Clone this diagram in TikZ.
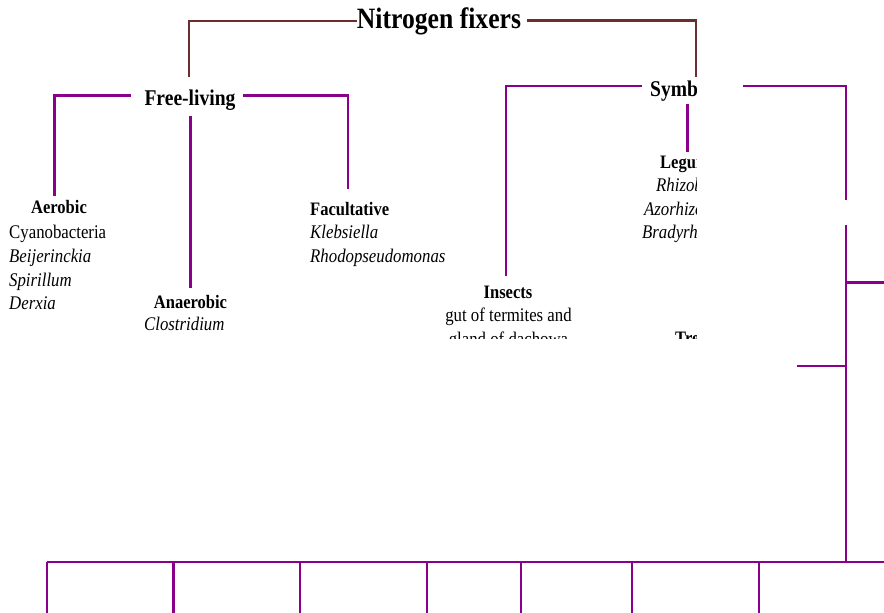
\documentclass[tikz,border=0pt]{standalone}
\usepackage{fontspec}
\setmainfont[FakeStretch=0.87]{Liberation Serif}
\definecolor{brownline}{HTML}{6B2D2D}
\definecolor{purpline}{HTML}{8B008B}
\begin{document}
\begin{tikzpicture}[x=1pt,y=-1pt,
  bl/.style={draw=brownline,line width=2.2pt},
  pl/.style={draw=purpline,line width=2.5pt},
  title/.style={inner sep=0pt,font=\fontsize{29.5}{32}\selectfont\bfseries},
  mid/.style={inner sep=0pt,font=\fontsize{22.5}{26}\selectfont\bfseries},
  head/.style={inner sep=0pt,font=\fontsize{19}{22}\selectfont\bfseries},
  body/.style={inner sep=0pt,font=\fontsize{19.3}{22}\selectfont},
  itb/.style={inner sep=0pt,font=\fontsize{19.3}{22}\selectfont\itshape}]
\useasboundingbox (0,0) rectangle (884,613);
\fill[white] (0,0) rectangle (884,613);

\begin{scope}
\clip (0,0) rectangle (696.5,338);
\node[title,anchor=base] (nf) at (439,28) {Nitrogen fixers};
\node[mid,anchor=base] (fl) at (190,105) {Free-living};
\node[mid,anchor=base west] (sy) at (650,96.5) {Symbiotic};
\node[head,anchor=base] (ae) at (59,213.3) {Aerobic};
\node[body,anchor=base west] (ae1) at (9,238.3) {Cyanobacteria};
\node[itb,anchor=base west] (ae2) at (9,262) {Beijerinckia};
\node[itb,anchor=base west] (ae3) at (9,286) {Spirillum};
\node[itb,anchor=base west] (ae4) at (9,309.5) {Derxia};
\node[head,anchor=base] (an) at (190.5,308.3) {Anaerobic};
\node[itb,anchor=base west] (an1) at (144,330.5) {Clostridium};
\node[head,anchor=base west] (fa) at (310,215) {Facultative};
\node[itb,anchor=base west] (fa1) at (310,238.5) {Klebsiella};
\node[itb,anchor=base west] (fa2) at (310,262) {Rhodopseudomonas};
\node[head,anchor=base] (in) at (508,298.3) {Insects};
\node[body,anchor=base] (in1) at (508.5,321.7) {gut of termites and};
\node[body,anchor=base] (in2) at (508.5,345.5) {gland of dachowa};
\node[head,anchor=base west] (le) at (660,168.3) {Legumes};
\node[itb,anchor=base west] (le1) at (656,191.7) {Rhizobium};
\node[itb,anchor=base west] (le2) at (644,215) {Azorhizobium};
\node[itb,anchor=base west] (le3) at (642,238.5) {Bradyrhizobium};
\node[head,anchor=base west] (tr) at (675,344) {Trees};
\end{scope}

% brown connectors
\coordinate (b1) at (189,21);
\coordinate (b2) at (357,21);
\coordinate (b3) at (527,20.5);
\coordinate (b4) at (696,20.5);
\draw[bl] (189,77) -- (b1) -- (b2);
\draw[bl] (b3) -- (b4) -- (696,77);

% free-living connectors
\draw[pl] (54.5,196) -- (54.5,95.7) -- (131,95.7);
\draw[pl] (243,95.7) -- (348,95.7) -- (348,189);
\draw[pl] (190.3,116) -- (190.3,288);

% symbiotic connectors
\draw[pl] (506,276) -- (506,86) -- (641.5,86);
\draw[pl] (742.5,86) -- (846,86) -- (846,199.5);
\draw[pl] (687.7,104) -- (687.7,151.5);
\coordinate (v1) at (846,225);
\coordinate (v2) at (846,562);
\draw[pl] (v1) -- (v2);
\draw[pl] (846,282.3) -- (884,282.3);
\draw[pl] (797,366) -- (846,366);

% bottom bus
\coordinate (h1) at (47,562);
\coordinate (h2) at (884,562);
\draw[pl] (h1) -- (h2);
\foreach \xx in {47,173.5,300,427,521,632,759}
  \draw[pl] (\xx,562) -- (\xx,613);
\end{tikzpicture}
\end{document}
